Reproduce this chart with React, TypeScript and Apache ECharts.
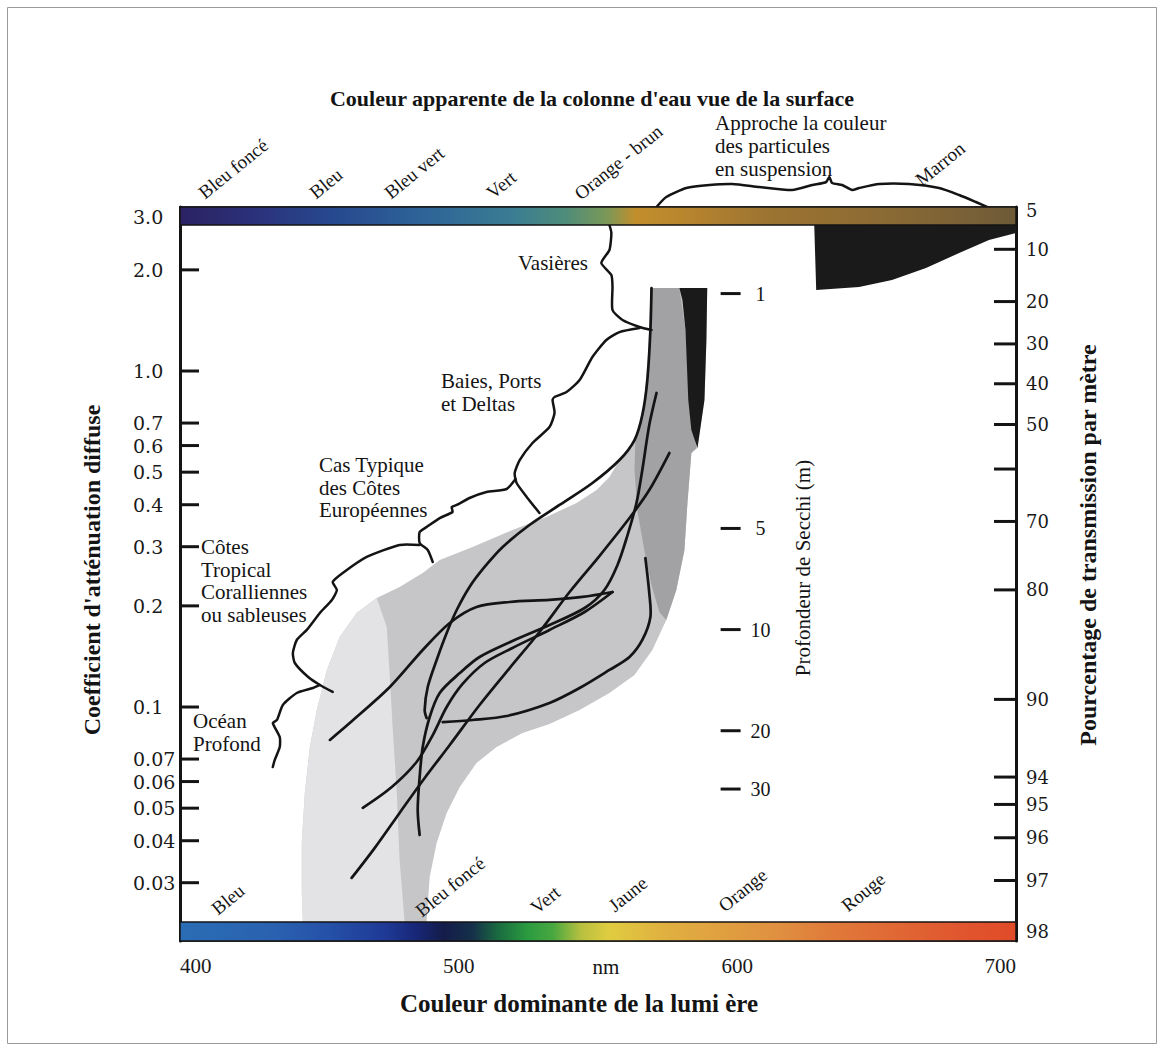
import React, { useEffect, useRef } from "react";
import * as echarts from "echarts";

// ---- axis tick values ----
const leftTicks = [3.0, 2.0, 1.0, 0.7, 0.6, 0.5, 0.4, 0.3, 0.2, 0.1, 0.07, 0.06, 0.05, 0.04, 0.03];
const leftTickLabels = ["3.0", "2.0", "1.0", "0.7", "0.6", "0.5", "0.4", "0.3", "0.2", "0.1", "0.07", "0.06", "0.05", "0.04", "0.03"];
const transmissionTicks = [5, 10, 20, 30, 40, 50, 60, 70, 80, 90, 94, 95, 96, 97, 98];
const transmissionLabels = ["5", "10", "20", "30", "40", "50", "", "70", "80", "90", "94", "95", "96", "97", "98"];
const secchiDepths = [1, 5, 10, 20, 30];
const secchiK = [1.7, 0.34, 0.17, 0.085, 0.057];

// colour bars (K extent)
const topBarK = [3.077, 2.72];
const bottomBarK = [0.0229, 0.02012];

// ---- shaded domains [nm, K] ----
const bandOutline: [number, number][] = [
  [444.1, 0.0229], [443.7, 0.028], [443.7, 0.0394], [444.8, 0.0555], [446.6, 0.076], [449.1, 0.098],
  [452.7, 0.1289], [457.3, 0.1616], [463.4, 0.1905], [470.6, 0.2112], [478.8, 0.2277], [487.1, 0.2505],
  [493.2, 0.2738], [505.0, 0.2995], [519.3, 0.3364], [531.5, 0.3678], [542.3, 0.4048], [549.5, 0.4424],
  [554.1, 0.4836], [557.7, 0.5434], [562.4, 0.594], [564.9, 0.691], [566.6, 0.82], [568.1, 1.155],
  [568.8, 1.766], [589.2, 1.766], [588.9, 1.237], [588.2, 0.82], [585.7, 0.59], [583.5, 0.57],
  [582.1, 0.405], [581.0, 0.293], [578.1, 0.223], [574.5, 0.1815], [569.5, 0.1478], [563.1, 0.1245],
  [554.1, 0.1101], [543.4, 0.098], [532.6, 0.089], [522.9, 0.0837], [513.6, 0.076], [506.4, 0.0681],
  [500.4, 0.0578], [495.7, 0.0484], [492.1, 0.0394], [489.6, 0.0312], [488.5, 0.0229],
];
const lightStrip: [number, number][] = [
  [444.1, 0.0229], [443.7, 0.028], [443.7, 0.0394], [444.8, 0.0555], [446.6, 0.076], [449.1, 0.098],
  [452.7, 0.1289], [457.3, 0.1616], [463.4, 0.1905], [470.6, 0.2112], [474.2, 0.173], [475.3, 0.1228],
  [476.3, 0.0872], [477.8, 0.0555], [478.8, 0.0351], [480.6, 0.0229],
];
const darkBand: [number, number][] = [
  [568.8, 1.766], [579.2, 1.766], [581.4, 1.324], [582.8, 0.82], [585.3, 0.59], [583.5, 0.57],
  [582.1, 0.405], [581.0, 0.293], [578.1, 0.223], [574.5, 0.1815], [572.0, 0.1918], [569.2, 0.2308],
  [566.6, 0.2934], [564.1, 0.3858], [563.1, 0.5075], [563.4, 0.6231], [565.9, 0.7396], [567.7, 0.9402],
  [568.8, 1.324],
];
const blackStrip: [number, number][] = [
  [579.2, 1.766], [589.2, 1.766], [588.9, 1.237], [588.2, 0.82], [585.7, 0.59], [583.5, 0.6675],
  [582.4, 0.82], [581.4, 1.324], [580.3, 1.627],
];
const turbidCap: [number, number][] = [
  [627.6, 2.72], [700, 2.72], [700, 2.575], [690.3, 2.455], [679.6, 2.245], [667.7, 2.026],
  [655.5, 1.866], [643.7, 1.778], [628.3, 1.742],
];

// ---- spectral curves [nm, K] ----
const curveA: [number, number][] = [
  [453.8, 0.0798], [460.9, 0.0896], [475.3, 0.1147], [487.1, 0.1478], [496.8, 0.1778], [506.4, 0.1984],
  [518.3, 0.2054], [532.6, 0.2083], [544.4, 0.2126], [555.2, 0.2199],
];
const curveB: [number, number][] = [
  [569.2, 1.766], [568.8, 1.324], [567.7, 0.9402], [565.9, 0.7396], [563.1, 0.6231], [557.7, 0.5434],
  [548.0, 0.4642], [536.2, 0.3993], [525.4, 0.3481], [515.8, 0.2995], [509.3, 0.2611], [503.9, 0.2277],
  [499.3, 0.1944], [495.7, 0.1661], [492.1, 0.138], [488.9, 0.1147], [487.8, 0.098], [488.5, 0.0927],
];
const curveC: [number, number][] = [
  [465.6, 0.0501], [476.0, 0.0578], [484.9, 0.0686], [490.7, 0.0825], [495.7, 0.1], [501.4, 0.1171],
  [509.3, 0.1352], [519.3, 0.1499], [532.6, 0.1696], [545.2, 0.1918], [555.2, 0.2199],
];
const curveD: [number, number][] = [
  [461.6, 0.031], [469.9, 0.0381], [478.8, 0.0484], [487.8, 0.0615], [496.8, 0.0771], [507.5, 0.1014],
  [518.3, 0.1306], [529.0, 0.1672], [539.8, 0.2199], [550.5, 0.2814], [561.3, 0.3651], [568.4, 0.4424],
  [575.6, 0.5701],
];
const curveE: [number, number][] = [
  [486.0, 0.0416], [485.3, 0.0495], [486.0, 0.0619], [487.1, 0.076], [489.6, 0.0934], [493.2, 0.1101],
  [500.4, 0.1262], [507.5, 0.1409], [519.3, 0.1572], [532.6, 0.1754], [545.2, 0.1971], [552.3, 0.223],
  [557.0, 0.2647], [560.6, 0.325], [563.8, 0.4048], [565.9, 0.5075], [568.4, 0.6908], [571.0, 0.8603],
];
const curveF: [number, number][] = [
  [494.3, 0.0902], [505.0, 0.0915], [517.2, 0.094], [532.6, 0.1028], [543.4, 0.1139], [554.1, 0.1289],
  [561.3, 0.1409], [565.9, 0.1583], [568.8, 0.1853], [568.4, 0.2184], [567.0, 0.2776],
];

// ---- braces [nm, K] ----
const braceVasieres: [number, number][] = [
  [554.1, 2.72], [554.8, 2.575], [554.1, 2.292], [551.2, 2.096], [554.8, 1.931], [555.2, 1.778],
  [555.2, 1.519], [558.8, 1.419], [564.9, 1.352], [569.2, 1.324],
];
const braceBaies: [number, number][] = [
  [564.9, 1.343], [557.7, 1.306], [553.0, 1.237], [548.0, 1.101], [543.4, 0.94], [538.7, 0.866],
  [534.4, 0.837], [533.7, 0.82], [534.4, 0.75], [532.6, 0.681], [526.5, 0.6105], [521.9, 0.543],
  [520.1, 0.497], [520.8, 0.464], [524.4, 0.422], [529.0, 0.378],
];
const braceCas: [number, number][] = [
  [520.4, 0.477], [517.2, 0.4455], [510.0, 0.4363], [503.9, 0.4188], [499.3, 0.3993], [497.5, 0.3937],
  [497.8, 0.3805], [493.2, 0.3651], [488.5, 0.3433], [486.0, 0.3318], [486.0, 0.3079], [488.9, 0.2934],
  [490.7, 0.2702],
];
const braceCotes: [number, number][] = [
  [486.0, 0.3037], [478.8, 0.3037], [467.0, 0.2796], [458.4, 0.2505], [454.8, 0.2356], [456.3, 0.223],
  [454.5, 0.2083], [450.2, 0.1905], [445.5, 0.1696], [441.9, 0.1583], [440.5, 0.1448], [441.2, 0.1352],
  [446.0, 0.1228], [450.2, 0.1163], [454.8, 0.1109],
];
const braceOcean: [number, number][] = [
  [450.2, 0.1163], [447.7, 0.1139], [441.9, 0.1101], [436.9, 0.1014], [434.8, 0.0915], [433.3, 0.0896],
  [435.8, 0.0814], [435.8, 0.076], [434.0, 0.0696], [433.3, 0.0663],
];
const braceParticules: [number, number][] = [
  [571.0, 3.077], [574.5, 3.294], [581.7, 3.504], [590.0, 3.577], [598.2, 3.602], [607.9, 3.528],
  [619.7, 3.456], [626.9, 3.577], [631.9, 3.652], [633.0, 3.779], [634.0, 3.627], [637.6, 3.577],
  [641.2, 3.456], [643.7, 3.504], [650.9, 3.602], [661.6, 3.602], [672.4, 3.504], [679.6, 3.34],
  [685.6, 3.184], [691.4, 3.034],
];

const topBarStops = [
  [0, "#2b2262"], [0.08, "#2b2f78"], [0.18, "#27488f"], [0.3, "#2e6698"], [0.4, "#3b7d92"],
  [0.46, "#4e8c7a"], [0.51, "#7a9858"], [0.545, "#c28e2c"], [0.6, "#b9862e"], [0.7, "#9d7431"],
  [0.85, "#8a6a34"], [1, "#6e5a38"],
];
const bottomBarStops = [
  [0, "#2a6db5"], [0.11, "#2a62b0"], [0.18, "#2550a8"], [0.245, "#1e3a96"], [0.28, "#18287a"],
  [0.315, "#141c4a"], [0.35, "#15304a"], [0.38, "#1a6a40"], [0.415, "#2a9a40"], [0.446, "#48a840"],
  [0.48, "#b8c040"], [0.513, "#e0cc40"], [0.58, "#e0b040"], [0.714, "#e09040"], [0.78, "#e07a3a"],
  [0.915, "#e05a30"], [1, "#e04a28"],
];

const topBarLabels = ["Bleu foncé", "Bleu", "Bleu vert", "Vert", "Orange - brun", "Marron"];
const bottomBarLabels = ["Bleu", "Bleu foncé", "Vert", "Jaune", "Orange", "Rouge"];

const SERIF = '"Liberation Serif", "Times New Roman", serif';
const INK = "#141414";

function polygonSeries(pts: [number, number][], fill: string, z: number) {
  return {
    type: "custom", coordinateSystem: "cartesian2d", clip: false, silent: true, z,
    data: [pts[0]],
    renderItem: (_p: any, api: any) => ({
      type: "polygon",
      shape: { points: pts.map((q) => api.coord(q)) },
      style: { fill },
    }),
  };
}

function polylineSeries(pts: [number, number][], width: number, smooth: number, z: number) {
  return {
    type: "custom", coordinateSystem: "cartesian2d", clip: false, silent: true, z,
    data: [pts[0]],
    renderItem: (_p: any, api: any) => ({
      type: "polyline",
      shape: { points: pts.map((q) => api.coord(q)), smooth },
      style: { stroke: INK, lineWidth: width, fill: null, lineJoin: "round", lineCap: "round" },
    }),
  };
}

function barSeries(kRange: number[], stops: any[], z: number) {
  return {
    type: "custom", coordinateSystem: "cartesian2d", clip: false, silent: true, z,
    data: [[400, kRange[0]]],
    renderItem: (_p: any, api: any) => {
      const a = api.coord([400, kRange[0]]);
      const b = api.coord([700, kRange[1]]);
      const grad = new echarts.graphic.LinearGradient(0, 0, 1, 0,
        stops.map((s) => ({ offset: s[0], color: s[1] })));
      return {
        type: "rect",
        shape: { x: a[0], y: a[1], width: b[0] - a[0], height: b[1] - a[1] },
        style: { fill: grad, stroke: INK, lineWidth: 1.5 },
      };
    },
  };
}

function txt(text: string, x: number, y: number, font: string, align = "left", vAlign = "middle", rotation = 0, lineHeight?: number) {
  return {
    type: "text", x, y, rotation, silent: true, z: 20,
    style: {
      text, font, fill: INK, textAlign: align, textVerticalAlign: vAlign, align, verticalAlign: vAlign,
      lineHeight,
    },
  };
}

export default function App() {
  const ref = useRef<HTMLDivElement>(null);
  useEffect(() => {
    if (!ref.current) return;
    const chart = echarts.init(ref.current, undefined, { renderer: "svg" });
    const rot = (39 * Math.PI) / 180;
    const topLabelPos = [[207, 202], [318, 202], [393, 202], [495, 202], [583, 203], [924, 189]];
    const bottomLabelPos = [[220, 918], [424, 920], [539, 917], [617, 915], [727, 915], [850, 915]];
    const labelFont = `19px ${SERIF}`;

    const option: any = {
      animation: false,
      backgroundColor: "#ffffff",
      grid: { left: 180, right: 148, top: 207, bottom: 110, show: true, borderColor: INK, borderWidth: 1.5 },
      xAxis: {
        type: "value", min: 400, max: 700, interval: 100,
        axisLine: { show: false }, axisTick: { show: false }, splitLine: { show: false },
        axisLabel: {
          margin: 14, color: "#1a1a1a", fontSize: 21, fontFamily: SERIF,
          alignMinLabel: "left", alignMaxLabel: "right",
        },
      },
      yAxis: [
        {
          type: "log", logBase: 10, min: 0.02012, max: 3.077,
          axisLine: { show: true, lineStyle: { color: INK, width: 3 } },
          axisTick: { show: false }, axisLabel: { show: false }, splitLine: { show: false },
        },
        {
          type: "log", logBase: 10, min: 0.02012, max: 3.077, position: "right",
          axisLine: { show: true, lineStyle: { color: INK, width: 3 } },
          axisTick: { show: false }, axisLabel: { show: false }, splitLine: { show: false },
        },
      ],
      series: [
        polygonSeries(bandOutline, "#c6c6c8", 1),
        polygonSeries(lightStrip, "#e3e3e6", 2),
        polygonSeries(darkBand, "#a2a2a4", 3),
        polygonSeries(blackStrip, "#1a1a1a", 4),
        polygonSeries(turbidCap, "#1a1a1a", 4),
        polylineSeries(curveA, 2.7, 0.3, 6),
        polylineSeries(curveB, 2.7, 0.3, 6),
        polylineSeries(curveC, 2.7, 0.3, 6),
        polylineSeries(curveD, 2.7, 0.3, 6),
        polylineSeries(curveE, 2.7, 0.3, 6),
        polylineSeries(curveF, 2.7, 0.3, 6),
        polylineSeries(braceVasieres, 2.5, 0.2, 6),
        polylineSeries(braceBaies, 2.5, 0.2, 6),
        polylineSeries(braceCas, 2.5, 0.2, 6),
        polylineSeries(braceCotes, 2.5, 0.2, 6),
        polylineSeries(braceOcean, 2.5, 0.2, 6),
        polylineSeries(braceParticules, 2.5, 0.2, 6),
        barSeries(topBarK, topBarStops, 8),
        barSeries(bottomBarK, bottomBarStops, 8),
        {
          type: "custom", coordinateSystem: "cartesian2d", clip: false, silent: true, z: 10,
          data: leftTicks.map((v) => [400, v]),
          renderItem: (params: any, api: any) => {
            const v = api.value(1);
            const p = api.coord([400, v]);
            const children: any[] = [];
            if (v < 2.5) {
              children.push({ type: "line", shape: { x1: p[0], y1: p[1], x2: p[0] + 19, y2: p[1] }, style: { stroke: INK, lineWidth: 3 } });
            }
            children.push({
              type: "text", x: p[0] - 47, y: v > 2.5 ? p[1] + 6 : p[1],
              style: { text: leftTickLabels[params.dataIndex], font: `19px "DejaVu Serif", serif`, fill: "#1a1a1a", textAlign: "left", textVerticalAlign: "middle", align: "left", verticalAlign: "middle" },
            });
            return { type: "group", children };
          },
        },
        {
          type: "custom", coordinateSystem: "cartesian2d", clip: false, silent: true, z: 10,
          data: transmissionTicks.map((t) => [700, -Math.log(t / 100)]),
          renderItem: (params: any, api: any) => {
            const i = params.dataIndex;
            const t = transmissionTicks[i];
            const p = api.coord([700, api.value(1)]);
            const children: any[] = [];
            if (t > 5 && t < 98) {
              children.push({ type: "line", shape: { x1: p[0] - 22, y1: p[1], x2: p[0], y2: p[1] }, style: { stroke: INK, lineWidth: 3 } });
            }
            if (transmissionLabels[i]) {
              children.push({
                type: "text", x: p[0] + 10, y: t === 98 ? p[1] - 9 : p[1],
                style: { text: transmissionLabels[i], font: `18px "DejaVu Serif", serif`, fill: "#1a1a1a", textAlign: "left", textVerticalAlign: "middle", align: "left", verticalAlign: "middle" },
              });
            }
            return { type: "group", children };
          },
        },
        {
          type: "custom", coordinateSystem: "cartesian2d", clip: false, silent: true, z: 10,
          data: secchiK.map((k) => [594, k]),
          renderItem: (params: any, api: any) => {
            const p = api.coord([594, api.value(1)]);
            return {
              type: "group",
              children: [
                { type: "line", shape: { x1: p[0], y1: p[1], x2: p[0] + 20, y2: p[1] }, style: { stroke: INK, lineWidth: 3 } },
                {
                  type: "text", x: p[0] + 40, y: p[1],
                  style: { text: String(secchiDepths[params.dataIndex]), font: `20px ${SERIF}`, fill: INK, textAlign: "center", textVerticalAlign: "middle", align: "center", verticalAlign: "middle" },
                },
              ],
            };
          },
        },
      ],
      graphic: [
        { type: "rect", silent: true, z: 0, shape: { x: 7.5, y: 7.5, width: 1149, height: 1036 }, style: { fill: "none", stroke: "#9a9a9a", lineWidth: 1 } },
        txt("Couleur apparente de la colonne d'eau vue de la surface", 592, 98, `bold 22px ${SERIF}`, "center"),
        txt("Couleur dominante de la lumi ère", 579, 1003, `bold 25px ${SERIF}`, "center"),
        txt("nm", 606, 967, `21px ${SERIF}`, "center"),
        txt("Coefficient d'atténuation diffuse", 92, 570, `bold 24px ${SERIF}`, "center", "middle", Math.PI / 2),
        txt("Pourcentage de transmission par mètre", 1088, 545, `bold 24px ${SERIF}`, "center", "middle", Math.PI / 2),
        txt("Profondeur de Secchi (m)", 803, 568, `21px ${SERIF}`, "center", "middle", Math.PI / 2),
        txt("Approche la couleur\ndes particules\nen suspension", 715, 111, `21px ${SERIF}`, "left", "top", 0, 23),
        txt("Vasières", 588, 263, `21px ${SERIF}`, "right"),
        txt("Baies, Ports\net Deltas", 441, 369, `21px ${SERIF}`, "left", "top", 0, 23),
        txt("Cas Typique\ndes Côtes\nEuropéennes", 319, 454, `21px ${SERIF}`, "left", "top", 0, 22.5),
        txt("Côtes\nTropical\nCoralliennes\nou sableuses", 201, 536, `21px ${SERIF}`, "left", "top", 0, 22.5),
        txt("Océan\nProfond", 193, 709, `21px ${SERIF}`, "left", "top", 0, 23),
        ...topBarLabels.map((s, i) => txt(s, topLabelPos[i][0], topLabelPos[i][1], labelFont, "left", "bottom", rot)),
        ...bottomBarLabels.map((s, i) => txt(s, bottomLabelPos[i][0], bottomLabelPos[i][1], labelFont, "left", "bottom", rot)),
      ],
    };
    chart.setOption(option);
    return () => chart.dispose();
  }, []);
  return <div ref={ref} style={{ position: "fixed", left: 0, top: 0, width: 1164, height: 1051, background: "#fff" }} />;
}
